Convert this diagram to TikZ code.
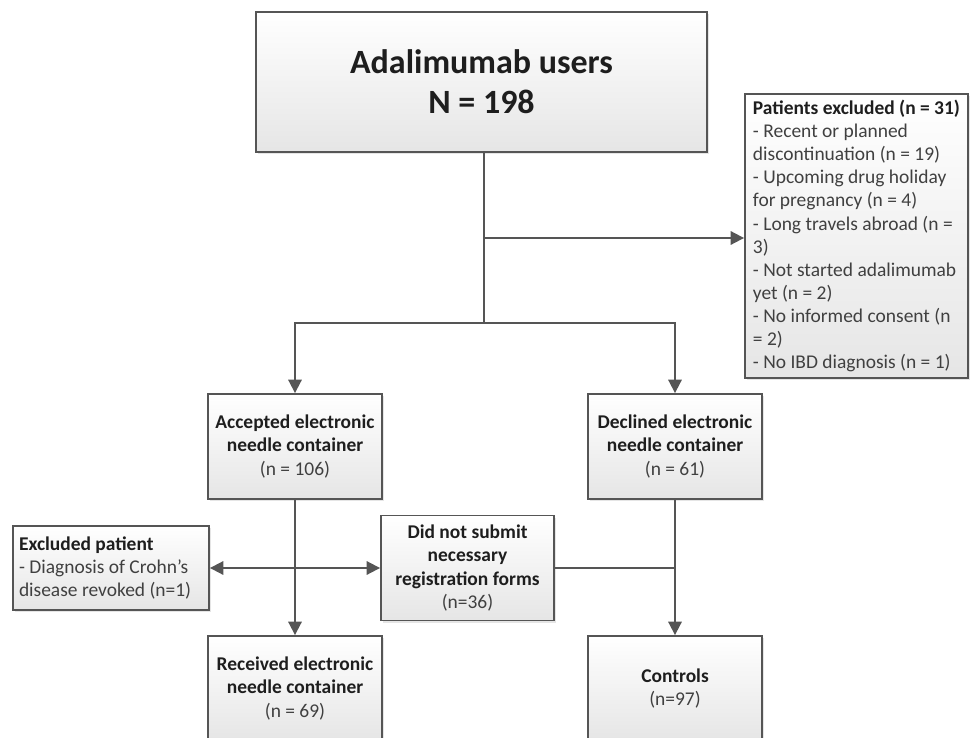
\documentclass[tikz,border=0pt]{standalone}
\usepackage{fontspec}
\setmainfont{Carlito}
\usetikzlibrary{arrows.meta,shadows}
\definecolor{linec}{HTML}{555555}
\definecolor{boldc}{HTML}{1E1E1E}
\definecolor{normc}{HTML}{404040}
\newcommand{\bt}[1]{{\bfseries\color{boldc}#1}}
\begin{document}
\begin{tikzpicture}[x=0.75pt,y=-0.75pt,
 box/.style={draw=linec, line width=1.4pt, rectangle, top color=white, bottom color=black!10,
   drop shadow={opacity=0.2,shadow xshift=1.5pt,shadow yshift=-1.5pt},
   align=center, font=\fontsize{14.6}{17.3}\selectfont, text=normc, inner sep=2pt},
 conn/.style={draw=linec, line width=1.4pt},
 arr/.style={conn, -{Triangle[length=10pt,width=10pt]}},
 darr/.style={conn, {Triangle[length=10pt,width=10pt]}-{Triangle[length=10pt,width=10pt]}}
]
\clip (0,0) rectangle (970,738);
\fill[white] (0,0) rectangle (970,738);

\node[box, minimum width=338.25pt, minimum height=105pt,
      font=\fontsize{25.5}{30}\selectfont\bfseries, text=boldc] (top) at (481.5,82)
  {Adalimumab users\\N = 198};

\node[box, align=left, minimum width=167.25pt, minimum height=213pt] (excl) at (856.5,236)
  {\bt{Patients excluded (n = 31)}\\
   - Recent or planned\\
   discontinuation (n = 19)\\
   - Upcoming drug holiday\\
   for pregnancy (n = 4)\\
   - Long travels abroad (n =\\
   3)\\
   - Not started adalimumab\\
   yet (n = 2)\\
   - No informed consent (n\\
   = 2)\\
   - No IBD diagnosis (n = 1)};

\node[box, minimum width=130.5pt, minimum height=78.75pt] (acc) at (295,446.5)
  {\bt{Accepted electronic}\\\bt{needle container}\\(n = 106)};
\node[box, minimum width=130.5pt, minimum height=78.75pt] (dec) at (675,446.5)
  {\bt{Declined electronic}\\\bt{needle container}\\(n = 61)};

\node[box, align=flush left, text width=138pt, inner xsep=4.5pt, minimum height=63pt] (exc) at (111,568)
  {\bt{Excluded patient}\\- Diagnosis of Crohn’s\\disease revoked (n=1)};
\node[box, minimum width=129.75pt, minimum height=78.75pt] (dns) at (467.5,568)
  {\bt{Did not submit}\\\bt{necessary}\\\bt{registration forms}\\(n=36)};

\node[box, minimum width=130.5pt, minimum height=78.75pt] (rec) at (295,688.5)
  {\bt{Received electronic}\\\bt{needle container}\\(n = 69)};
\node[box, minimum width=130.5pt, minimum height=78.75pt] (ctrl) at (675,688.5)
  {\bt{Controls}\\(n=97)};

\coordinate (jx) at (484,238);
\coordinate (split) at (484,323);
\draw[conn] (split |- top.south) -- (split);
\draw[arr] (jx) -- (excl.west |- jx);
\draw[arr] (split) -| (acc.north);
\draw[arr] (split) -| (dec.north);
\draw[arr] (acc.south) -- (rec.north);
\draw[darr] (exc.east) -- (dns.west |- exc.east);
\draw[conn] (dns.east) -- (dec.south |- dns.east);
\draw[arr] (dec.south) -- (ctrl.north);
\end{tikzpicture}
\end{document}
